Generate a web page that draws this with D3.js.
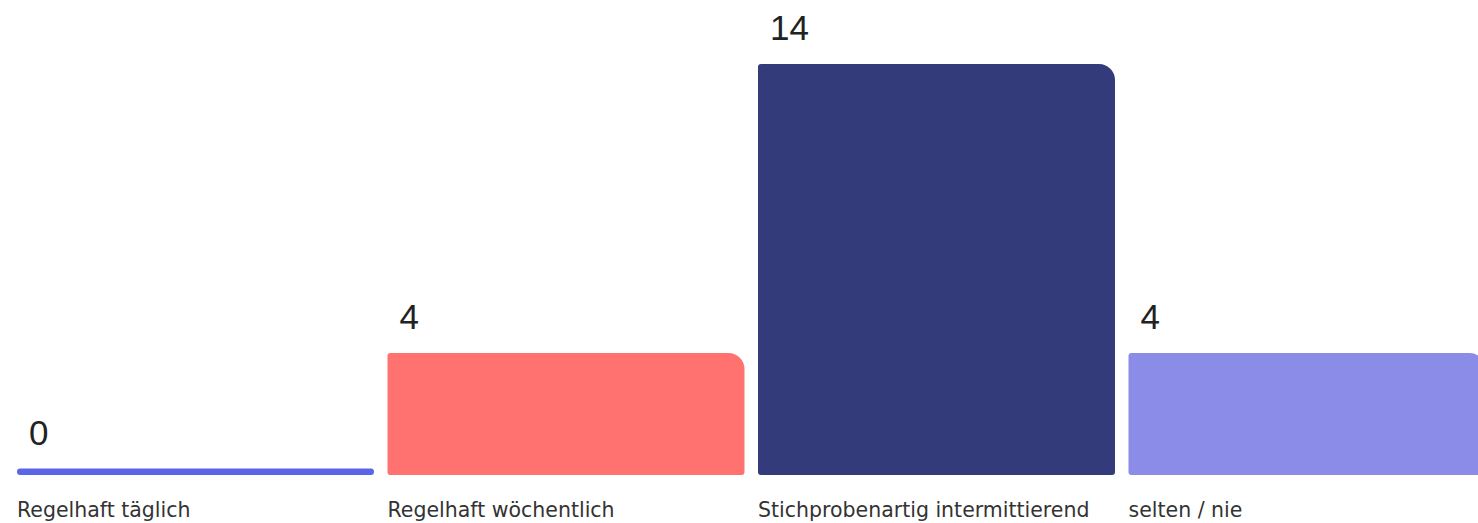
<!DOCTYPE html>
<html>
<head>
<meta charset="utf-8">
<script src="https://cdn.jsdelivr.net/npm/d3@7"></script>
<style>
  html, body { margin: 0; padding: 0; background: #fff; overflow: hidden; }
  svg { display: block; }
</style>
</head>
<body>
<svg id="chart" width="1478" height="523"></svg>
<script>
const categories = ["Regelhaft täglich", "Regelhaft wöchentlich", "Stichprobenartig intermittierend", "selten / nie"];
const values = [0, 4, 14, 4];
const colors = ["#5a66e6", "#ff7270", "#333b7b", "#8b8be8"];

const W = 1478, H = 523;
const svg = d3.select("#chart");

const step = 370.5, gap = 13.5;
const x = d3.scaleBand().domain(categories)
  .range([17, 17 + step * categories.length - gap])
  .paddingInner(gap / step).paddingOuter(0).align(0);
const baseline = 475;
const y = d3.scaleLinear().domain([0, 14]).range([468.6, 64]);

function barPath(x0, y0, w, h, rTR, r) {
  rTR = Math.min(rTR, h / 2, w / 2);
  r = Math.min(r, h / 2, w / 2);
  return `M${x0 + r},${y0}` +
    `H${x0 + w - rTR}` +
    `A${rTR},${rTR} 0 0 1 ${x0 + w},${y0 + rTR}` +
    `V${y0 + h - r}` +
    `A${r},${r} 0 0 1 ${x0 + w - r},${y0 + h}` +
    `H${x0 + r}` +
    `A${r},${r} 0 0 1 ${x0},${y0 + h - r}` +
    `V${y0 + r}` +
    `A${r},${r} 0 0 1 ${x0 + r},${y0}Z`;
}

const data = categories.map((c, i) => ({ c, v: values[i], color: colors[i] }));

svg.selectAll("path.bar").data(data).join("path")
  .attr("class", "bar")
  .attr("fill", d => d.color)
  .attr("d", d => {
    const top = y(d.v);
    const h = baseline - top;
    return d.v === 0 ? barPath(x(d.c), top, x.bandwidth(), h, h / 2, h / 2)
                     : barPath(x(d.c), top, x.bandwidth(), h, 16, 3);
  });

svg.selectAll("text.val").data(data).join("text")
  .attr("class", "val")
  .attr("x", d => x(d.c) + 12)
  .attr("y", d => y(d.v) - 24)
  .attr("font-family", "Liberation Sans, Arial, sans-serif")
  .attr("font-size", 35)
  .attr("fill", "#222")
  .text(d => d.v);

svg.selectAll("text.cat").data(data).join("text")
  .attr("class", "cat")
  .attr("x", d => x(d.c))
  .attr("y", 517)
  .attr("font-family", "DejaVu Sans, sans-serif")
  .attr("font-size", 20.5)
  .attr("fill", "#333")
  .text(d => d.c);
</script>
</body>
</html>
